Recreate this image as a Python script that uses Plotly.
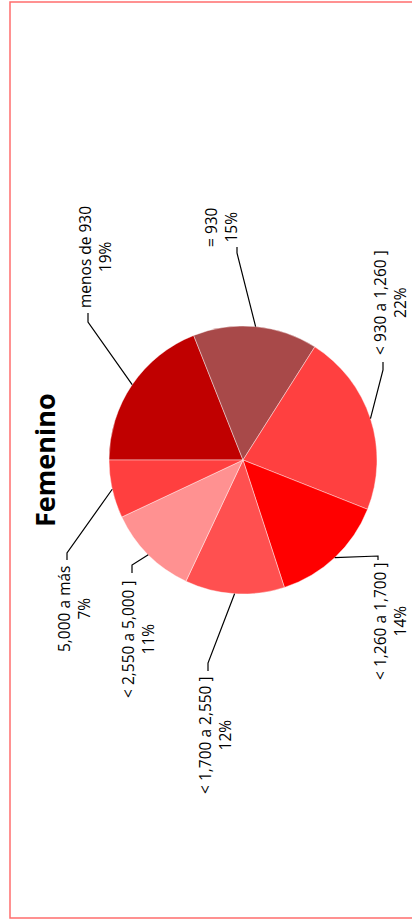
import plotly.graph_objects as go
import math

# ---- data ----
categories = ["menos de 930", "= 930", "< 930 a 1,260 ]", "< 1,260 a 1,700 ]",
              "< 1,700 a 2,550 ]", "< 2,550 a 5,000 ]", "5,000 a más"]
values = [19, 15, 22, 14, 12, 11, 7]
colors = ["#C00000", "#A84949", "#FF4040", "#FF0000", "#FF5050", "#FF9191", "#FF3F3F"]
title = "Femenino"

# ---- layout (pixels) ----
W, H = 412, 919
CX, CY, R = 243, 460, 134
# label block centre, knee point, label end point (pixels)
label_pos = [(95, 257), (221, 227), (390, 303), (390, 621), (215, 735), (138, 639), (74, 609)]
knee_pos = [(88, 322), (237, 253), (383, 370), (378, 556), (208, 663), (132, 565), (67, 553)]
end_pos = [(88, 313), (237, 247), (383, 362), (378, 560), (208, 671), (132, 573), (67, 560)]

def px(x):
    return x / W

def py(y):
    return 1 - y / H

fig = go.Figure()
fig.add_trace(go.Pie(
    labels=categories, values=values, sort=False, direction="clockwise",
    rotation=270, textinfo="none", hoverinfo="label+percent",
    marker=dict(colors=colors, line=dict(color="rgba(255,255,255,0.6)", width=0.7)),
    domain=dict(x=[px(CX - R), px(CX + R)], y=[py(CY + R), py(CY - R)]),
    showlegend=False,
))

total = sum(values)
cum = 0
shapes = []
annotations = []
for i, (cat, v) in enumerate(zip(categories, values)):
    mid = (cum + v / 2) / total
    cum += v
    phi = math.radians(180 - 360 * mid)
    ex = CX + R * math.cos(phi)
    ey = CY - R * math.sin(phi)
    kx, ky = knee_pos[i]
    lx, ly = end_pos[i]
    shapes.append(dict(
        type="path", xref="paper", yref="paper",
        path=f"M {px(ex)},{py(ey)} L {px(kx)},{py(ky)} L {px(lx)},{py(ly)}",
        line=dict(color="black", width=1.2),
    ))
    tx, ty = label_pos[i]
    annotations.append(dict(
        x=px(tx), y=py(ty), xref="paper", yref="paper",
        text=f"{cat}<br>{round(100 * v / total)}%",
        showarrow=False, textangle=-90, align="center",
        xanchor="center", yanchor="middle",
        font=dict(family="Open Sans, sans-serif", size=15.5, color="black"),
    ))

annotations.append(dict(
    x=px(44), y=py(460), xref="paper", yref="paper",
    text=f"<b>{title}</b>", showarrow=False, textangle=-90,
    xanchor="center", yanchor="middle",
    font=dict(family="Open Sans, sans-serif", size=27, color="black"),
))

shapes.append(dict(
    type="rect", xref="paper", yref="paper",
    x0=px(10), x1=px(430), y0=py(918), y1=py(2),
    line=dict(color="rgba(255,60,60,0.75)", width=1.5),
))

fig.update_layout(
    width=W, height=H, margin=dict(l=0, r=0, t=0, b=0),
    paper_bgcolor="white", plot_bgcolor="white",
    shapes=shapes, annotations=annotations,
)

fig.write_html(
    "out.html",
    config={"displayModeBar": False},
    post_script="document.body.style.margin='0';document.body.style.overflow='hidden';",
)
